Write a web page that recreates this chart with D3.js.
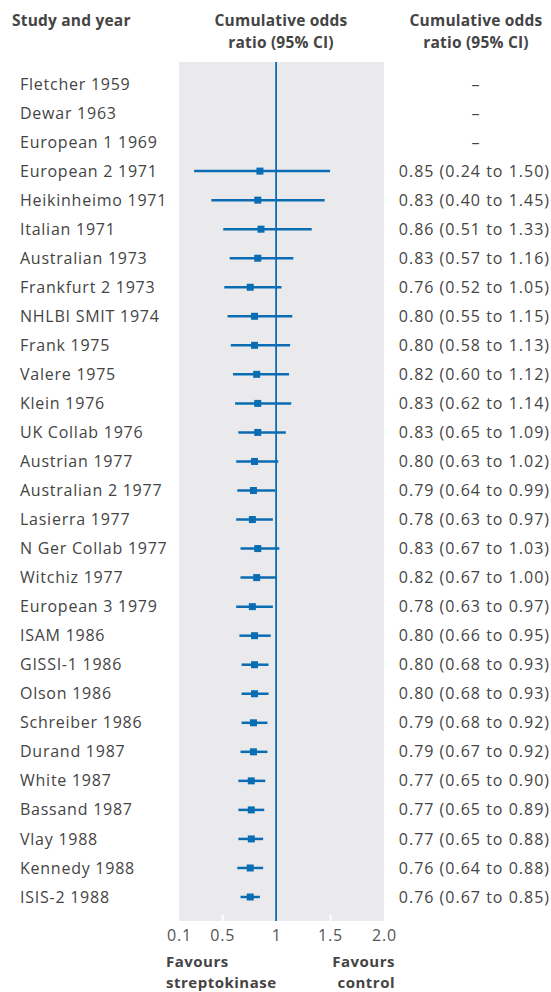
<!DOCTYPE html>
<html><head><meta charset="utf-8">
<script src="https://cdn.jsdelivr.net/npm/d3@7"></script>
<style>html,body{margin:0;padding:0;background:#fff}svg{display:block}</style>
</head><body>
<svg id="c" width="551" height="992"></svg>
<script>
const studies = ["Fletcher 1959","Dewar 1963","European 1 1969","European 2 1971","Heikinheimo 1971","Italian 1971","Australian 1973","Frankfurt 2 1973","NHLBI SMIT 1974","Frank 1975","Valere 1975","Klein 1976","UK Collab 1976","Austrian 1977","Australian 2 1977","Lasierra 1977","N Ger Collab 1977","Witchiz 1977","European 3 1979","ISAM 1986","GISSI-1 1986","Olson 1986","Schreiber 1986","Durand 1987","White 1987","Bassand 1987","Vlay 1988","Kennedy 1988","ISIS-2 1988"];
const oddsRatio = [null,null,null,0.85,0.83,0.86,0.83,0.76,0.80,0.80,0.82,0.83,0.83,0.80,0.79,0.78,0.83,0.82,0.78,0.80,0.80,0.80,0.79,0.79,0.77,0.77,0.77,0.76,0.76];
const lower = [null,null,null,0.24,0.40,0.51,0.57,0.52,0.55,0.58,0.60,0.62,0.65,0.63,0.64,0.63,0.67,0.67,0.63,0.66,0.68,0.68,0.68,0.67,0.65,0.65,0.65,0.64,0.67];
const upper = [null,null,null,1.50,1.45,1.33,1.16,1.05,1.15,1.13,1.12,1.14,1.09,1.02,0.99,0.97,1.03,1.00,0.97,0.95,0.93,0.93,0.92,0.92,0.90,0.89,0.88,0.88,0.85];
const tickValues = [0.1,0.5,1,1.5,2.0];
const tickLabels = ["0.1","0.5","1","1.5","2.0"];

(function(){
const blue = "#0a6db3", txt = "#444", font = "'Open Sans', 'Noto Sans', sans-serif";
const svg = d3.select("#c");
const x = d3.scaleLinear().domain([0.1, 2.0]).range([179, 384]);
const y = d3.scalePoint().domain(studies).range([84, 897]);
const pTop = 62, pBottom = 921;

svg.append("rect").attr("x", x(0.1)).attr("y", pTop).attr("width", x(2.0)-x(0.1)).attr("height", pBottom-pTop).attr("fill", "#eaeaec");

const ax = svg.append("g").attr("transform", `translate(0,${pBottom})`)
  .call(d3.axisBottom(x).tickValues(tickValues).tickFormat((d,i)=>tickLabels[i]).tickSize(0).tickPadding(9));
ax.select(".domain").remove();
ax.selectAll("text").attr("font-family", font).attr("font-size", 16).attr("fill", "#555").attr("letter-spacing", "0.8px");
ax.selectAll(".tick").filter(d => d===0.5 || d===1.5).append("line").attr("y1", 0).attr("y2", -6).attr("stroke", "#fff").attr("stroke-width", 2);

svg.append("line").attr("x1", x(1)).attr("x2", x(1)).attr("y1", pTop).attr("y2", pBottom).attr("stroke", blue).attr("stroke-width", 1.8);

const rows = studies.map((s,i)=>({s, or: oddsRatio[i], lo: lower[i], hi: upper[i]}));
const has = rows.filter(d => d.or != null);
svg.selectAll(".ci").data(has).join("line")
  .attr("x1", d=>x(d.lo)).attr("x2", d=>x(d.hi)).attr("y1", d=>y(d.s)).attr("y2", d=>y(d.s))
  .attr("stroke", blue).attr("stroke-width", 2.5);
svg.selectAll(".pt").data(has).join("rect")
  .attr("x", d=>x(d.or)-3.5).attr("y", d=>y(d.s)-3.5).attr("width", 7).attr("height", 7).attr("fill", blue);

svg.selectAll(".lab").data(rows).join("text")
  .attr("x", 20).attr("y", d=>y(d.s)).attr("dy", "0.35em")
  .attr("font-family", font).attr("font-size", 16).attr("letter-spacing", "0.75px").attr("fill", txt).text(d=>d.s);

const f2 = d3.format(".2f");
svg.selectAll(".val").data(rows).join("text")
  .attr("x", d=> d.or==null ? 476 : 550).attr("y", d=>y(d.s)).attr("dy", "0.35em")
  .attr("text-anchor", d=> d.or==null ? "middle" : "end")
  .attr("font-family", font).attr("font-size", 16).attr("letter-spacing", "1px").attr("fill", txt)
  .text(d=> d.or==null ? "–" : `${f2(d.or)} (${f2(d.lo)} to ${f2(d.hi)})`);

function bold(xp, yp, t, anchor, size, ls) {
  svg.append("text").attr("x", xp).attr("y", yp).attr("text-anchor", anchor)
    .attr("font-family", font).attr("font-weight", "bold").attr("font-size", size || 15.5).attr("letter-spacing", (ls || 0.2) + "px").attr("fill", txt).text(t);
}
bold(12, 26, "Study and year", "start");
bold(281, 26, "Cumulative odds", "middle");
bold(281, 48, "ratio (95% CI)", "middle");
bold(476, 26, "Cumulative odds", "middle");
bold(476, 48, "ratio (95% CI)", "middle");
bold(166, 967, "Favours", "start", 15, 0.5);
bold(166, 988, "streptokinase", "start", 15, 0.5);
bold(395, 967, "Favours", "end", 15, 0.5);
bold(395, 988, "control", "end", 15, 0.5);
})();
</script>
</body></html>
